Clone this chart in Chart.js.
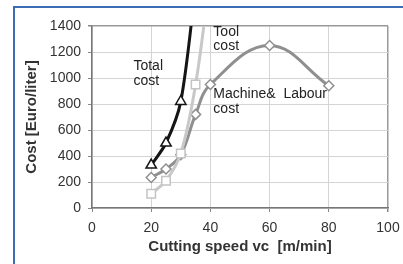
<!DOCTYPE html>
<html>
<head>
<meta charset="utf-8">
<script src="https://cdn.jsdelivr.net/npm/chart.js@4"></script>
<style>
  html, body { margin: 0; padding: 0; background: #fff; }
  #wrap { position: relative; width: 403px; height: 264px; }
  #frame { position: absolute; left: 13px; top: 6px; right: -10px; bottom: -10px;
           border-top: 2px solid #3a6db5; border-left: 2px solid #3a6db5; pointer-events: none; }
  canvas { position: absolute; left: 0; top: 0; }
</style>
</head>
<body>
<div id="wrap">
  <canvas id="chart" width="403" height="264"></canvas>
  <div id="frame"></div>
</div>
<script>
// cutting speed [m/min]
const totalSpeed = [20, 25, 30, 35];
const totalCost = [330, 500, 820, 1700];

const toolSpeed = [20, 25, 30, 35, 40];
const toolCost = [110, 210, 420, 950, 1800];

const machineSpeed = [20, 25, 30, 35, 40, 60, 80];
const machineCost = [235, 300, 410, 720, 950, 1250, 940];

const xTicks = [0, 20, 40, 60, 80, 100];
const yTicks = [0, 200, 400, 600, 800, 1000, 1200, 1400];

const pairs = (xs, ys) => xs.map((x, i) => ({ x, y: ys[i] }));

// curve labels placed in data units
const curveLabels = [
  { lines: ['Total', 'cost'], x: 14, y: 1090 },
  { lines: ['Tool', 'cost'], x: 41, y: 1355 },
  { lines: ['Machine&  Labour', 'cost'], x: 41, y: 875 }
];

const labelPlugin = {
  id: 'curveLabels',
  afterDatasetsDraw(chart) {
    const { ctx, scales } = chart;
    ctx.save();
    ctx.font = '14px "Liberation Sans", Arial, sans-serif';
    ctx.fillStyle = '#222';
    ctx.textBaseline = 'middle';
    curveLabels.forEach(l => {
      const px = scales.x.getPixelForValue(l.x);
      const py = scales.y.getPixelForValue(l.y);
      l.lines.forEach((t, i) => ctx.fillText(t, px, py + i * 14.5));
    });
    ctx.restore();
  }
};

const font = { family: '"Liberation Sans", Arial, sans-serif', size: 14 };
const titleFont = { family: '"Liberation Sans", Arial, sans-serif', size: 15, weight: 'bold' };

new Chart(document.getElementById('chart').getContext('2d'), {
  type: 'line',
  data: {
    datasets: [
      {
        label: 'Tool cost',
        data: pairs(toolSpeed, toolCost),
        borderColor: '#c8c8c8',
        borderWidth: 3,
        pointStyle: 'rect',
        pointRadius: 6,
        pointBorderWidth: 1.5,
        pointBackgroundColor: '#fff',
        pointBorderColor: '#c4c4c4',
        tension: 0.35,
        order: 1
      },
      {
        label: 'Machine & Labour cost',
        data: pairs(machineSpeed, machineCost),
        borderColor: '#8f8f8f',
        borderWidth: 3,
        pointStyle: 'rectRot',
        pointRadius: 5,
        pointBorderWidth: 1.5,
        pointBackgroundColor: '#fff',
        pointBorderColor: '#8f8f8f',
        tension: 0.4,
        order: 2
      },
      {
        label: 'Total cost',
        data: pairs(totalSpeed, totalCost),
        borderColor: '#151515',
        borderWidth: 3,
        pointStyle: 'triangle',
        pointRadius: 6,
        pointBorderWidth: 1.5,
        pointBackgroundColor: '#fff',
        pointBorderColor: '#151515',
        tension: 0.3,
        order: 0
      }
    ]
  },
  options: {
    responsive: false,
    animation: false,
    layout: { padding: { left: 20, right: 15, top: 26, bottom: 8 } },
    plugins: {
      legend: { display: false },
      tooltip: { enabled: false }
    },
    scales: {
      x: {
        type: 'linear',
        min: 0,
        max: 100,
        afterBuildTicks: (s) => { s.ticks = xTicks.map(v => ({ value: v })); },
        ticks: { font, color: '#333', padding: 8, maxRotation: 0, callback: (v) => String(v) },
        grid: {
          color: (c) => c.tick && c.tick.value === 100 ? '#999' : '#d4d4d4',
          lineWidth: (c) => c.tick && c.tick.value === 100 ? 1.5 : 1,
          tickLength: 4,
          tickColor: '#888'
        },
        border: { color: '#777', width: 1.5 },
        title: {
          display: true,
          text: 'Cutting speed vc  [m/min]',
          font: titleFont,
          color: '#333',
          padding: { top: 0, bottom: 0 }
        },
        afterFit: (s) => { s.height = 48; s.paddingRight = 0; s.paddingLeft = 0; }
      },
      y: {
        min: 0,
        max: 1400,
        afterBuildTicks: (s) => { s.ticks = yTicks.map(v => ({ value: v })); },
        ticks: { font, color: '#333', padding: 7, callback: (v) => String(v) },
        grid: {
          color: (c) => c.tick && c.tick.value === 1400 ? '#999' : '#d4d4d4',
          lineWidth: (c) => c.tick && c.tick.value === 1400 ? 1.5 : 1,
          tickLength: 4,
          tickColor: '#888'
        },
        border: { color: '#777', width: 1.5 },
        title: {
          display: true,
          text: 'Cost [Euro/liter]',
          font: titleFont,
          color: '#333',
          padding: { top: 3, bottom: 0 }
        },
        afterFit: (s) => { s.width = 72; }
      }
    }
  },
  plugins: [labelPlugin]
});
</script>
</body>
</html>
